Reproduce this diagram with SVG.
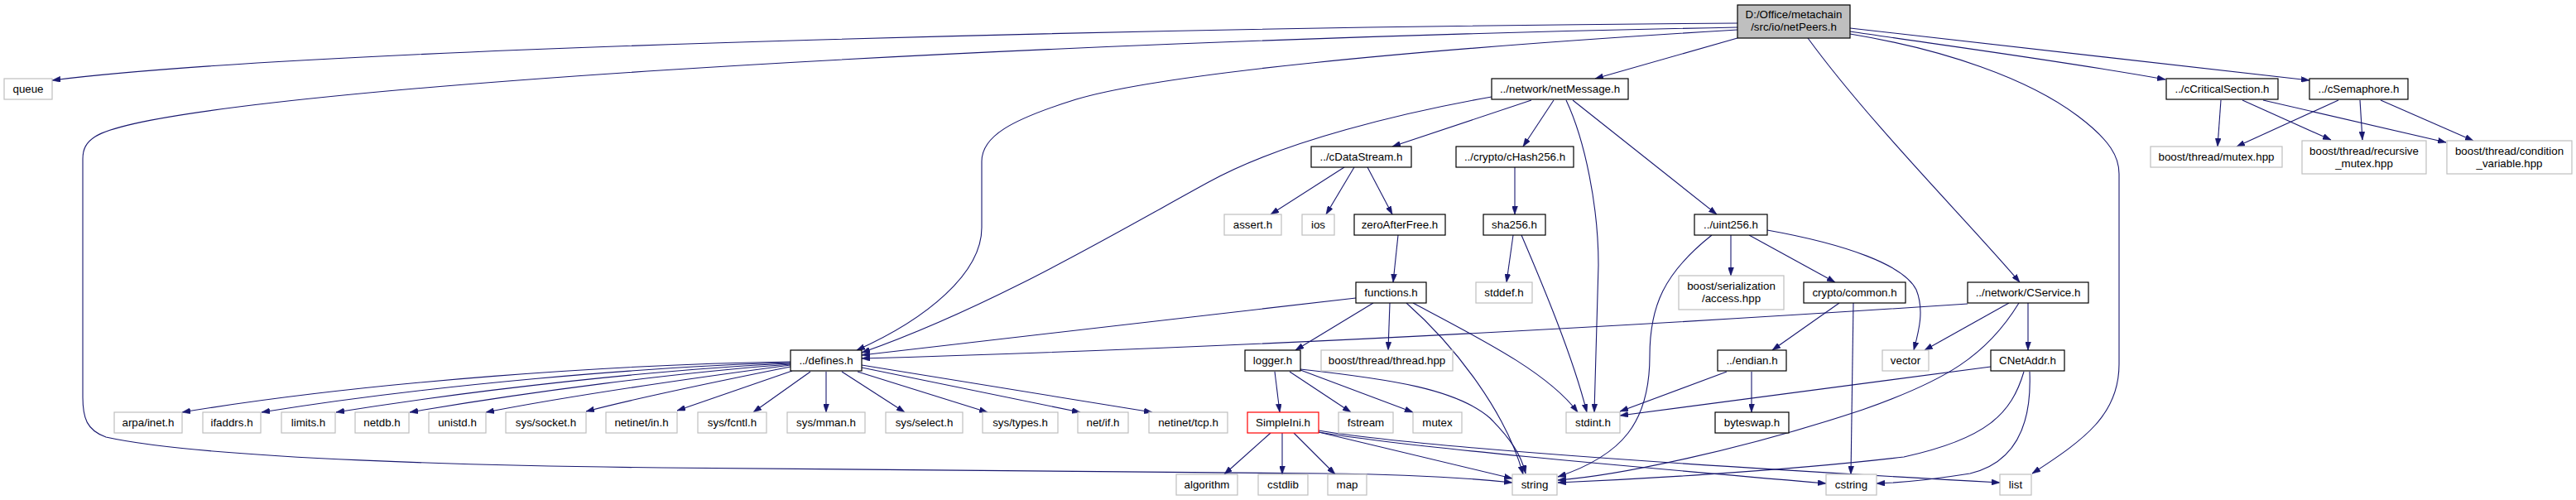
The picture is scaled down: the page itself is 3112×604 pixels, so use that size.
<svg xmlns="http://www.w3.org/2000/svg" width="3112" height="604" viewBox="0 0 3112 604">
<style>
  .bg{fill:#ffffff}
  .doc rect{fill:#ffffff;stroke:#000000;stroke-width:1.2}
  .ext rect{fill:#ffffff;stroke:#bfbfbf;stroke-width:1.2}
  .red rect{fill:#ffffff;stroke:#ff0000;stroke-width:1.2}
  .top rect{fill:#bfbfbf;stroke:#000000;stroke-width:1.2}
  text{font-family:"Liberation Sans",Arial,Helvetica,sans-serif;font-size:13.33px;fill:#000000;text-anchor:middle}
  #edges path{fill:none;stroke:#191970;stroke-width:1.1;marker-end:url(#ah)}
</style>
<defs>
  <marker id="ah" viewBox="0 0 10 7" refX="10" refY="3.5" markerWidth="10" markerHeight="7" orient="auto" markerUnits="userSpaceOnUse">
    <path d="M0,0 L10,3.5 L0,7 z" fill="#191970" stroke="#191970" stroke-width="0.5"/>
  </marker>
</defs>
<rect class="bg" x="0" y="0" width="3112" height="604"/>

<g id="edges">
  <path d="M2099,28 C1500,32 400,55 63,97"/>
  <path d="M2099,33 C1200,50 200,110 115,165 C104,172 100,180 100,192 L100,480 C100,505 105,520 128,528 C250,555 600,563 800,565 C1200,568 1500,570 1600,572 C1700,573 1780,578 1827,583"/>
  <path d="M2099,36 C1700,60 1400,90 1300,120 C1220,145 1186,165 1186,195 L1186,275 C1186,330 1120,385 1035,423"/>
  <path d="M2099,46 L1927,95"/>
  <path d="M2184,46 C2260,150 2380,270 2440,341"/>
  <path d="M2235,38 C2350,55 2500,75 2616,96"/>
  <path d="M2235,34 L2790,97"/>
  <path d="M2235,41 C2350,60 2450,95 2510,140 C2550,170 2560,190 2560,210 L2560,440 C2560,500 2520,530 2455,572"/>
  <path d="M2683,121 L2679,177"/>
  <path d="M2709,121 L2816,169"/>
  <path d="M2734,121 L2955,172"/>
  <path d="M2825,121 L2702,177"/>
  <path d="M2851,121 L2854,169"/>
  <path d="M2876,121 L2988,170"/>
  <path d="M1802,117 C1700,135 1550,170 1460,220 C1350,280 1200,370 1041,426"/>
  <path d="M1638,360 L1041,429"/>
  <path d="M2377,367 C2000,392 1500,420 1041,433"/>
  <path d="M1850,121 L1682,177"/>
  <path d="M1877,121 L1840,177"/>
  <path d="M1892,121 C1915,170 1931,250 1931,320 L1926,498"/>
  <path d="M1900,121 L2074,259"/>
  <path d="M1624,202 L1535,259"/>
  <path d="M1636,202 L1602,259"/>
  <path d="M1652,202 L1682,259"/>
  <path d="M1830,202 L1830,259"/>
  <path d="M1689,284 L1683,341"/>
  <path d="M1828,284 L1820,341"/>
  <path d="M1838,284 C1862,340 1900,430 1917,498"/>
  <path d="M2068,284 C2010,330 1993,370 1993,430 C1993,510 1960,550 1882,576"/>
  <path d="M2091,284 L2091,333"/>
  <path d="M2113,284 L2217,341"/>
  <path d="M2135,278 C2230,295 2300,320 2315,350 C2325,375 2318,400 2312,423"/>
  <path d="M2222,366 L2141,423"/>
  <path d="M2239,366 L2236,573"/>
  <path d="M2086,449 L1957,497"/>
  <path d="M2116,449 L2116,498"/>
  <path d="M2427,366 L2325,423"/>
  <path d="M2439,366 C2400,430 2350,460 2250,495 C2100,545 1950,575 1882,580"/>
  <path d="M2450,366 L2450,423"/>
  <path d="M2405,443 L1957,502"/>
  <path d="M2445,449 C2430,500 2400,530 2300,552 C2150,570 1950,580 1882,583"/>
  <path d="M2452,449 C2455,520 2430,560 2380,572 C2330,580 2300,583 2267,584"/>
  <path d="M1535,523 L1479,573"/>
  <path d="M1549,523 L1549,573"/>
  <path d="M1563,523 L1613,573"/>
  <path d="M1593,522 L1827,578"/>
  <path d="M1593,522 C1700,540 1950,562 2206,584"/>
  <path d="M1593,520 C1700,538 2000,560 2416,583"/>
  <path d="M1540,449 L1546,498"/>
  <path d="M1558,449 L1632,498"/>
  <path d="M1571,447 L1707,498"/>
  <path d="M1571,446 C1680,458 1760,470 1800,505 C1825,530 1838,550 1843,572"/>
  <path d="M1679,366 L1677,423"/>
  <path d="M1659,366 L1565,423"/>
  <path d="M1699,366 C1760,420 1820,500 1840,573"/>
  <path d="M1707,366 C1790,410 1870,450 1906,498"/>
  <path d="M955,437 C750,440 450,460 220,498"/>
  <path d="M955,438 C780,443 520,465 316,498"/>
  <path d="M955,439 C800,446 580,470 406,498"/>
  <path d="M955,440 C820,450 640,473 495,498"/>
  <path d="M955,441 C850,455 700,476 587,498"/>
  <path d="M955,443 C880,458 780,478 708,497"/>
  <path d="M957,448 L818,496"/>
  <path d="M979,449 L910,498"/>
  <path d="M998,449 L998,498"/>
  <path d="M1017,449 L1093,498"/>
  <path d="M1036,449 L1193,498"/>
  <path d="M1041,444 L1305,498"/>
  <path d="M1041,441 L1392,498"/>
</g>

<g id="n_netPeers" class="top"><rect x="2099" y="6" width="136" height="40"/><text x="2167" y="22">D:/Office/metachain</text><text x="2167" y="37">/src/io/netPeers.h</text></g>
<g id="n_queue" class="ext"><rect x="5" y="95" width="58" height="25"/><text x="34" y="112">queue</text></g>
<g id="n_netMessage" class="doc"><rect x="1802" y="95" width="165" height="25"/><text x="1884.5" y="112">../network/netMessage.h</text></g>
<g id="n_cCriticalSection" class="doc"><rect x="2617" y="95" width="135" height="25"/><text x="2684.5" y="112">../cCriticalSection.h</text></g>
<g id="n_cSemaphore" class="doc"><rect x="2790" y="95" width="119" height="25"/><text x="2849.5" y="112">../cSemaphore.h</text></g>
<g id="n_cDataStream" class="doc"><rect x="1584" y="177" width="121" height="25"/><text x="1644.5" y="194">../cDataStream.h</text></g>
<g id="n_cHash256" class="doc"><rect x="1759" y="177" width="142" height="25"/><text x="1830" y="194">../crypto/cHash256.h</text></g>
<g id="n_boost_mutex" class="ext"><rect x="2598" y="177" width="159" height="25"/><text x="2677.5" y="194">boost/thread/mutex.hpp</text></g>
<g id="n_boost_recursive" class="ext"><rect x="2781" y="170" width="150" height="40"/><text x="2856" y="186.5">boost/thread/recursive</text><text x="2856" y="201.5">_mutex.hpp</text></g>
<g id="n_boost_condition" class="ext"><rect x="2956" y="170" width="151" height="40"/><text x="3031.5" y="186.5">boost/thread/condition</text><text x="3031.5" y="201.5">_variable.hpp</text></g>
<g id="n_assert" class="ext"><rect x="1479" y="259" width="69" height="25"/><text x="1513.5" y="276">assert.h</text></g>
<g id="n_ios" class="ext"><rect x="1573" y="259" width="39" height="25"/><text x="1592.5" y="276">ios</text></g>
<g id="n_zeroAfterFree" class="doc"><rect x="1636" y="259" width="110" height="25"/><text x="1691" y="276">zeroAfterFree.h</text></g>
<g id="n_sha256" class="doc"><rect x="1792" y="259" width="75" height="25"/><text x="1829.5" y="276">sha256.h</text></g>
<g id="n_uint256" class="doc"><rect x="2047" y="259" width="88" height="25"/><text x="2091" y="276">../uint256.h</text></g>
<g id="n_functions" class="doc"><rect x="1638" y="341" width="85" height="25"/><text x="1680.5" y="358">functions.h</text></g>
<g id="n_stddef" class="ext"><rect x="1783" y="341" width="68" height="25"/><text x="1817" y="358">stddef.h</text></g>
<g id="n_access" class="ext"><rect x="2028" y="333" width="127" height="41"/><text x="2091.5" y="350">boost/serialization</text><text x="2091.5" y="365">/access.hpp</text></g>
<g id="n_common" class="doc"><rect x="2179" y="341" width="123" height="25"/><text x="2240.5" y="358">crypto/common.h</text></g>
<g id="n_CService" class="doc"><rect x="2377" y="341" width="146" height="25"/><text x="2450" y="358">../network/CService.h</text></g>
<g id="n_defines" class="doc"><rect x="955" y="423" width="86" height="25"/><text x="998" y="440">../defines.h</text></g>
<g id="n_logger" class="doc"><rect x="1504" y="423" width="67" height="25"/><text x="1537.5" y="440">logger.h</text></g>
<g id="n_boost_thread" class="ext"><rect x="1596" y="423" width="159" height="25"/><text x="1675.5" y="440">boost/thread/thread.hpp</text></g>
<g id="n_endian" class="doc"><rect x="2075" y="423" width="83" height="25"/><text x="2116.5" y="440">../endian.h</text></g>
<g id="n_vector" class="ext"><rect x="2274" y="423" width="56" height="25"/><text x="2302" y="440">vector</text></g>
<g id="n_CNetAddr" class="doc"><rect x="2405" y="423" width="89" height="25"/><text x="2449.5" y="440">CNetAddr.h</text></g>

<g id="n_arpa" class="ext"><rect x="138" y="498" width="82" height="25"/><text x="179" y="515">arpa/inet.h</text></g>
<g id="n_ifaddrs" class="ext"><rect x="245" y="498" width="70" height="25"/><text x="280" y="515">ifaddrs.h</text></g>
<g id="n_limits" class="ext"><rect x="340" y="498" width="65" height="25"/><text x="372.5" y="515">limits.h</text></g>
<g id="n_netdb" class="ext"><rect x="429" y="498" width="65" height="25"/><text x="461.5" y="515">netdb.h</text></g>
<g id="n_unistd" class="ext"><rect x="518" y="498" width="69" height="25"/><text x="552.5" y="515">unistd.h</text></g>
<g id="n_socket" class="ext"><rect x="611" y="498" width="97" height="25"/><text x="659.5" y="515">sys/socket.h</text></g>
<g id="n_netinet_in" class="ext"><rect x="732" y="498" width="86" height="25"/><text x="775" y="515">netinet/in.h</text></g>
<g id="n_fcntl" class="ext"><rect x="843" y="498" width="83" height="25"/><text x="884.5" y="515">sys/fcntl.h</text></g>
<g id="n_mman" class="ext"><rect x="951" y="498" width="94" height="25"/><text x="998" y="515">sys/mman.h</text></g>
<g id="n_select" class="ext"><rect x="1070" y="498" width="93" height="25"/><text x="1116.5" y="515">sys/select.h</text></g>
<g id="n_types" class="ext"><rect x="1187" y="498" width="91" height="25"/><text x="1232.5" y="515">sys/types.h</text></g>
<g id="n_netif" class="ext"><rect x="1302" y="498" width="61" height="25"/><text x="1332.5" y="515">net/if.h</text></g>
<g id="n_tcp" class="ext"><rect x="1388" y="498" width="95" height="25"/><text x="1435.5" y="515">netinet/tcp.h</text></g>
<g id="n_SimpleIni" class="red"><rect x="1507" y="498" width="86" height="25"/><text x="1550" y="515">SimpleIni.h</text></g>
<g id="n_fstream" class="ext"><rect x="1617" y="498" width="66" height="25"/><text x="1650" y="515">fstream</text></g>
<g id="n_mutex" class="ext"><rect x="1707" y="498" width="59" height="25"/><text x="1736.5" y="515">mutex</text></g>
<g id="n_stdint" class="ext"><rect x="1892" y="498" width="65" height="25"/><text x="1924.5" y="515">stdint.h</text></g>
<g id="n_byteswap" class="doc"><rect x="2072" y="498" width="89" height="25"/><text x="2116.5" y="515">byteswap.h</text></g>

<g id="n_algorithm" class="ext"><rect x="1421" y="573" width="74" height="25"/><text x="1458" y="590">algorithm</text></g>
<g id="n_cstdlib" class="ext"><rect x="1520" y="573" width="60" height="25"/><text x="1550" y="590">cstdlib</text></g>
<g id="n_map" class="ext"><rect x="1604" y="573" width="47" height="25"/><text x="1627.5" y="590">map</text></g>
<g id="n_string" class="ext"><rect x="1827" y="573" width="54" height="25"/><text x="1854" y="590">string</text></g>
<g id="n_cstring" class="ext"><rect x="2206" y="573" width="61" height="25"/><text x="2236.5" y="590">cstring</text></g>
<g id="n_list" class="ext"><rect x="2416" y="573" width="38" height="25"/><text x="2435" y="590">list</text></g>
</svg>
